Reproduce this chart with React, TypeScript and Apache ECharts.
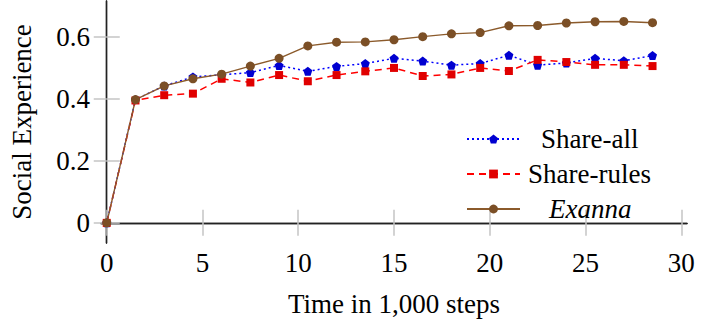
import React, { useEffect, useRef } from "react";
import * as echarts from "echarts";

const steps = [0, 1.5, 3, 4.5, 6, 7.5, 9, 10.5, 12, 13.5, 15, 16.5, 18, 19.5, 21, 22.5, 24, 25.5, 27, 28.5];
const shareAll = [0, 0.398, 0.442, 0.471, 0.478, 0.485, 0.508, 0.489, 0.505, 0.514, 0.531, 0.522, 0.509, 0.514, 0.541, 0.509, 0.516, 0.531, 0.523, 0.54];
const shareRules = [0, 0.395, 0.412, 0.417, 0.465, 0.453, 0.477, 0.457, 0.477, 0.489, 0.5, 0.474, 0.479, 0.5, 0.49, 0.526, 0.519, 0.51, 0.51, 0.506];
const exanna = [0, 0.398, 0.442, 0.465, 0.48, 0.506, 0.531, 0.571, 0.583, 0.584, 0.591, 0.601, 0.61, 0.614, 0.636, 0.637, 0.645, 0.649, 0.65, 0.646];
const xTicks = [0, 5, 10, 15, 20, 25, 30];
const yTicks = [0, 0.2, 0.4, 0.6];
const seriesNames = ["Share-all", "Share-rules", "Exanna"];

const FONT = "Liberation Serif";
const LEGEND_FONT = "serif";
const PENTAGON = "path://M0,-10 L9.51,-3.09 L5.88,8.09 L-5.88,8.09 L-9.51,-3.09 Z";

const pair = (ys: number[]) => steps.map((x, i) => [x, ys[i]]);

export default function App() {
  const ref = useRef<HTMLDivElement>(null);
  useEffect(() => {
    if (!ref.current) return;
    const chart = echarts.init(ref.current, null, { renderer: "svg" });
    const tick = { show: true, inside: true, length: 13, lineStyle: { color: "#c4c4c4", width: 1.5 } };
    const line = { show: true, lineStyle: { color: "#222", width: 1.4 } };
    const xBase = { type: "value", min: -0.3, max: 30.3, splitLine: { show: false }, axisLine: line };
    const yBase = { type: "value", min: -0.065, max: 0.716, splitLine: { show: false }, axisLine: line };
    // left padding per legend entry so each label sits centred in the legend's text column
    const legendPad = [16, 3, 24];
    chart.setOption({
      animation: false,
      backgroundColor: "#fff",
      textStyle: { fontFamily: FONT },
      grid: { left: 100, right: 18, top: 1, bottom: 83 },
      legend: {
        orient: "vertical",
        left: 466,
        top: 123,
        itemWidth: 53,
        itemHeight: 11,
        itemGap: 3,
        padding: 0,
        textStyle: { fontFamily: LEGEND_FONT, fontSize: 27, color: "#000", lineHeight: 32 },
        data: seriesNames.map((name, i) => ({
          name,
          textStyle: {
            fontFamily: LEGEND_FONT,
            fontSize: 27,
            color: "#000",
            lineHeight: 32,
            fontStyle: name === "Exanna" ? "italic" : "normal",
            padding: [0, 0, 0, legendPad[i]],
          },
        })),
      },
      xAxis: [
        {
          ...xBase,
          position: "bottom",
          name: "Time in 1,000 steps",
          nameLocation: "middle",
          nameGap: 47,
          nameTextStyle: { fontFamily: FONT, fontSize: 27, color: "#000" },
          axisTick: { ...tick, customValues: xTicks },
          axisLabel: { customValues: xTicks, margin: 6, fontFamily: FONT, fontSize: 27, color: "#000" },
        },
        {
          ...xBase,
          position: "top",
          axisTick: { ...tick, customValues: xTicks },
          axisLabel: { show: false },
        },
      ],
      yAxis: [
        {
          ...yBase,
          position: "left",
          name: "Social Experience",
          nameLocation: "middle",
          nameRotate: 90,
          nameGap: 66,
          nameTextStyle: { fontFamily: FONT, fontSize: 27, color: "#000" },
          axisTick: { ...tick, customValues: yTicks },
          axisLabel: {
            customValues: yTicks,
            margin: 11,
            fontFamily: FONT,
            fontSize: 27,
            color: "#000",
            formatter: (v: number) => (v === 0 ? "0" : v.toFixed(1)),
          },
        },
        {
          ...yBase,
          position: "right",
          axisTick: { ...tick, customValues: yTicks },
          axisLabel: { show: false },
        },
      ],
      series: [
        {
          name: seriesNames[0],
          type: "line",
          data: pair(shareAll),
          symbol: PENTAGON,
          symbolSize: 9,
          lineStyle: { color: "#0000ff", width: 1.5, type: [2, 3] },
          itemStyle: { color: "#0000d0" },
        },
        {
          name: seriesNames[1],
          type: "line",
          data: pair(shareRules),
          symbol: "rect",
          symbolSize: 8,
          lineStyle: { color: "#ff0000", width: 1.5, type: [7, 5] },
          itemStyle: { color: "#e00000" },
        },
        {
          name: seriesNames[2],
          type: "line",
          data: pair(exanna),
          symbol: "circle",
          symbolSize: 9,
          lineStyle: { color: "#8b5a2b", width: 1.4 },
          itemStyle: { color: "#7b4f26" },
        },
      ],
    });
    return () => chart.dispose();
  }, []);
  return (
    <div
      ref={ref}
      style={{ position: "fixed", left: 0, top: 0, width: 705, height: 326, background: "#fff" }}
    />
  );
}
